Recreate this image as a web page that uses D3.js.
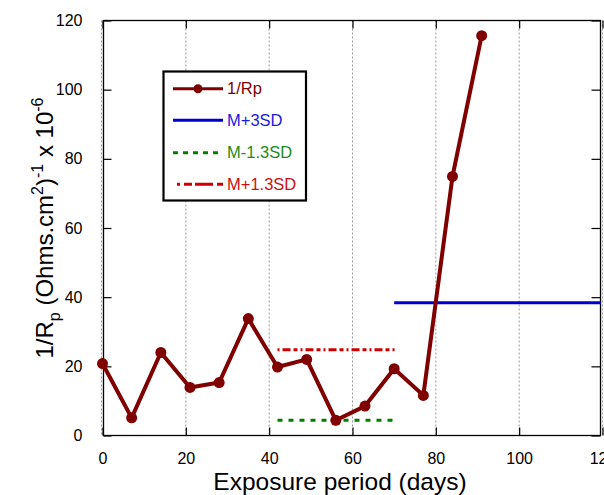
<!DOCTYPE html>
<html>
<head>
<meta charset="utf-8">
<script src="https://d3js.org/d3.v7.min.js"></script>
<style>
  body { margin: 0; background: #fff; }
  svg { font-family: "Liberation Sans", Arial, sans-serif; }
</style>
</head>
<body>
<div id="chart"></div>
<script>
// data
var days = [0, 7, 14, 21, 28, 35, 42, 49, 56, 63, 70, 77, 84, 91];
var invRp = [20.8, 5.1, 24.0, 13.9, 15.3, 33.8, 19.8, 22.0, 4.4, 8.5, 19.3, 11.6, 74.9, 115.6];

var m3sdRange = [70, 119.6], m3sdValue = 38.4;
var p13sdRange = [42, 70.5], p13sdValue = 24.8;
var m13sdRange = [42, 70.5], m13sdValue = 4.4;

var xTicks = [0, 20, 40, 60, 80, 100, 120];
var yTicks = [0, 20, 40, 60, 80, 100, 120];
var legendLabels = ["1/Rp", "M+3SD", "M-1.3SD", "M+1.3SD"];

var W = 604, H = 495;
var pLeft = 102.5, pRight = 602.5, pTop = 20.5, pBottom = 435.5;
var frameRight = 600.5;

var x = d3.scaleLinear().domain([0, 120]).range([pLeft, pRight]);
var y = d3.scaleLinear().domain([0, 120]).range([pBottom, pTop]);

var svg = d3.select("#chart").append("svg")
    .attr("width", W)
    .attr("height", H);

// vertical dotted grid
svg.append("g")
    .selectAll("line")
    .data(xTicks)
    .enter()
    .append("line")
    .attr("x1", function (d) { return x(d) - (d == 0 ? 1 : 0); })
    .attr("x2", function (d) { return x(d) - (d == 0 ? 1 : 0); })
    .attr("y1", pTop)
    .attr("y2", pBottom)
    .attr("stroke", "#999")
    .attr("stroke-width", 1)
    .attr("stroke-dasharray", "2,2");

// axes (ticks point inward)
var xAxis = svg.append("g")
    .attr("transform", "translate(0," + pBottom + ")")
    .call(d3.axisBottom(x).tickValues(xTicks).tickSize(-8).tickPadding(17));
var xTop = svg.append("g")
    .attr("transform", "translate(0," + pTop + ")")
    .call(d3.axisTop(x).tickValues(xTicks).tickSize(-8).tickFormat(""));
var yAxis = svg.append("g")
    .attr("transform", "translate(" + (pLeft + 1) + ",0)")
    .call(d3.axisLeft(y).tickValues(yTicks).tickSize(-8).tickPadding(21));
var yRight = svg.append("g")
    .attr("transform", "translate(" + frameRight + ",0)")
    .call(d3.axisRight(y).tickValues(yTicks).tickSize(-9).tickFormat(""));

[xAxis, xTop, yAxis, yRight].forEach(function (a) {
    a.select(".domain").remove();
    a.selectAll(".tick line").attr("stroke", "#000").attr("stroke-width", 1.2);
    a.selectAll("text").attr("font-size", 16).attr("fill", "#000")
        .attr("font-family", "Liberation Sans, Arial, sans-serif");
});

// frame
svg.append("rect")
    .attr("x", pLeft + 1)
    .attr("y", pTop)
    .attr("width", frameRight - pLeft - 1)
    .attr("height", pBottom - pTop)
    .attr("fill", "none")
    .attr("stroke", "#000")
    .attr("stroke-width", 1.3);

// reference lines
function hline(range, v, color, dash) {
    svg.append("line")
        .attr("x1", x(range[0]))
        .attr("x2", x(range[1]))
        .attr("y1", y(v))
        .attr("y2", y(v))
        .attr("stroke", color)
        .attr("stroke-width", 3)
        .attr("stroke-dasharray", dash);
}
hline(m3sdRange, m3sdValue, "#0000cc", null);
hline(p13sdRange, p13sdValue, "#cc0000", "2,3,8,3,4,3");
hline(m13sdRange, m13sdValue, "#008000", "5,6");

// 1/Rp series
var pts = days.map(function (d, i) { return [d, invRp[i]]; });
var line = d3.line()
    .x(function (d) { return x(d[0]); })
    .y(function (d) { return y(d[1]); });
svg.append("path")
    .datum(pts)
    .attr("d", line)
    .attr("fill", "none")
    .attr("stroke", "#800000")
    .attr("stroke-width", 4)
    .attr("stroke-linejoin", "round");
svg.selectAll("circle.pt")
    .data(pts)
    .enter()
    .append("circle")
    .attr("class", "pt")
    .attr("cx", function (d) { return x(d[0]); })
    .attr("cy", function (d) { return y(d[1]); })
    .attr("r", 5.5)
    .attr("fill", "#800000");

// legend
var lg = svg.append("g");
lg.append("rect")
    .attr("x", 163.5).attr("y", 71.5)
    .attr("width", 142.5).attr("height", 129)
    .attr("fill", "#fff")
    .attr("stroke", "#000")
    .attr("stroke-width", 2.2);
var legColors = ["#800000", "#0000cc", "#008000", "#cc0000"];
var legText = ["#800000", "#1a1ae0", "#1a8c1a", "#cc1010"];
var legDash = [null, null, "5,5", "3,4,8,3,15,0"];
var legY = [88.7, 120.3, 152.7, 184.3];
legendLabels.forEach(function (lab, i) {
    lg.append("line")
        .attr("x1", i == 3 ? 177 : 173).attr("x2", 223)
        .attr("y1", legY[i]).attr("y2", legY[i])
        .attr("stroke", legColors[i])
        .attr("stroke-width", 3)
        .attr("stroke-dasharray", legDash[i]);
    if (i == 0) {
        lg.append("circle").attr("cx", 198).attr("cy", legY[i]).attr("r", 4.5).attr("fill", legColors[i]);
    }
    lg.append("text")
        .attr("x", 227)
        .attr("y", legY[i])
        .attr("dy", "0.35em")
        .attr("font-size", 16.5)
        .attr("fill", legText[i])
        .text(lab);
});

// axis titles
svg.append("text")
    .attr("x", 340)
    .attr("y", 490)
    .attr("text-anchor", "middle")
    .attr("font-size", 24.5)
    .attr("fill", "#000")
    .text("Exposure period (days)");

var yl = svg.append("text")
    .attr("transform", "translate(53,228) rotate(-90)")
    .attr("text-anchor", "middle")
    .attr("font-size", 24)
    .attr("fill", "#000");
yl.append("tspan").text("1/R");
yl.append("tspan").attr("font-size", 16).attr("dy", 7).text("p");
yl.append("tspan").attr("dy", -7).text(" (Ohms.cm");
yl.append("tspan").attr("font-size", 16).attr("dy", -10).text("2");
yl.append("tspan").attr("dy", 10).text(")");
yl.append("tspan").attr("font-size", 16).attr("dy", -10).text("-1");
yl.append("tspan").attr("dy", 10).text(" x 10");
yl.append("tspan").attr("font-size", 16).attr("dy", -10).text("-6");
</script>
</body>
</html>
